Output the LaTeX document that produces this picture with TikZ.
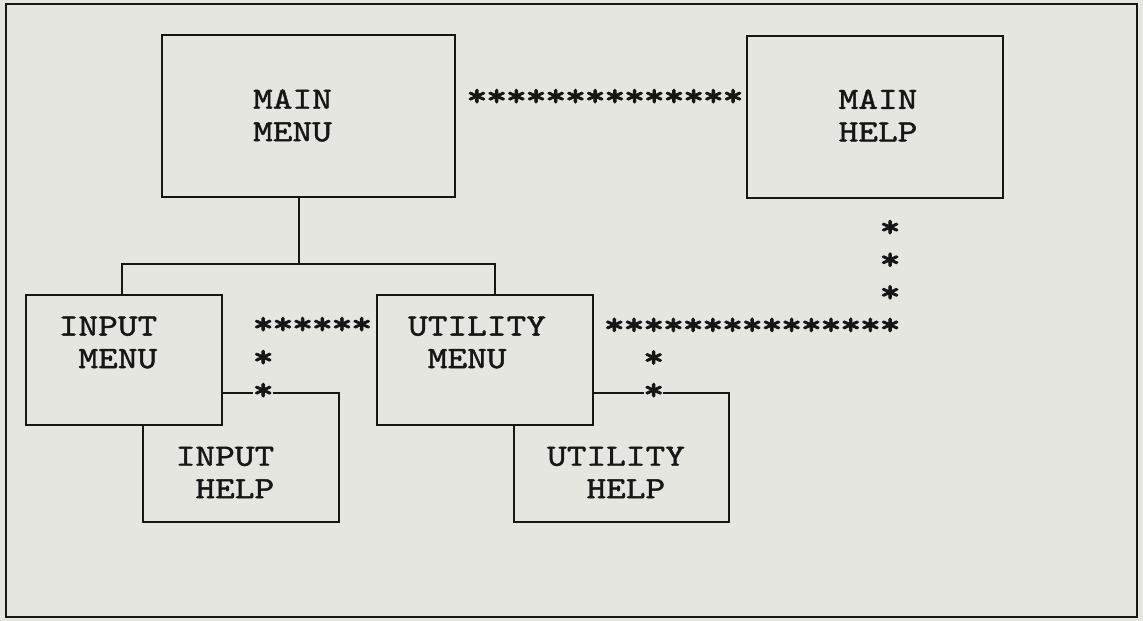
\documentclass[tikz,border=0pt]{standalone}
\usepackage{fontspec}
\newfontfamily\tw{lmmono10-regular.otf}[FakeBold=1.4, FakeStretch=1.21]
\newfontfamily\tws{lmmono10-regular.otf}[FakeBold=2.6, FakeStretch=1.25]
\definecolor{paper}{RGB}{230,230,224}
\definecolor{ink}{RGB}{22,22,22}
\newcommand\twfont{\tw\fontsize{31}{32.5}\selectfont}
\newcommand\st{\makebox[19.7pt]{\tws\fontsize{32}{32}\selectfont *}}
\newcommand\sk{\hspace*{19.7pt}}
\newcommand\starlines[2]{\vtop{\baselineskip=#1\lineskiplimit=-200pt\lineskip=0pt #2}}
\begin{document}
\begin{tikzpicture}[x=1pt,y=-1pt,
  box/.style={draw=ink, line width=2.2pt, fill=paper, rectangle, inner sep=0pt},
  back/.style={rectangle, inner sep=0pt},
  lbl/.style={font=\twfont, text=ink, align=left, inner sep=0pt},
  stars/.style={text=ink, inner sep=0pt},
  wire/.style={draw=ink, line width=2.2pt, line join=miter}]
\fill[paper] (0,0) rectangle (1143,621);
\useasboundingbox (0,0) rectangle (1143,621);
\draw[ink, line width=2.4pt] (6,4) rectangle (1137,617);
% help boxes (outlines drawn below, partly hidden behind the menus)
\node[back, minimum width=196pt, minimum height=129pt] (ih) at (241,457.5) {};
\node[back, minimum width=215pt, minimum height=129pt] (uh) at (621.5,457.5) {};
% menu boxes
\node[box, minimum width=293pt, minimum height=162pt] (mm) at (308.5,116) {};
\node[box, minimum width=256pt, minimum height=162pt] (mh) at (875,117) {};
\node[box, minimum width=196pt, minimum height=130pt] (im) at (124,360) {};
\node[box, minimum width=216pt, minimum height=130pt] (um) at (485,360) {};
% labels
\node[lbl] (mmt) at (292.5,115.5) {MAIN\\MENU};
\node[lbl] (mht) at (878,115.5) {MAIN\\HELP};
\node[lbl] (imt) at (108,342.5) {INPUT\\~MENU};
\node[lbl] (umt) at (477,342.5) {UTILITY\\~MENU};
\node[lbl] (iht) at (225,472.5) {INPUT\\~HELP};
\node[lbl] (uht) at (616,472.5) {UTILITY\\~~HELP};
% tree connector
\draw[wire] ([xshift=-9.5pt]mm.south) -- ++(0,66) coordinate (bus);
\draw[wire] ([xshift=-2pt]im.north) -- ([xshift=-2pt]im.north |- bus)
  -- ([xshift=10pt]um.north |- bus) -- ([xshift=10pt]um.north);
% star links
\node[stars, anchor=base] (sA) at (605,105.9) {\st\st\st\st\st\st\st\st\st\st\st\st\st\st};
\node[stars, anchor=base west] (sB) at (253.15,333.9)
  {\starlines{33pt}{\hbox{\st\st\st\st\st\st}\hbox{\st}\hbox{\st}}};
\node[stars, anchor=base west] (sC) at (604.25,236.9)
  {\starlines{32.6pt}{%
   \hbox{\sk\sk\sk\sk\sk\sk\sk\sk\sk\sk\sk\sk\sk\sk\st}%
   \hbox{\sk\sk\sk\sk\sk\sk\sk\sk\sk\sk\sk\sk\sk\sk\st}%
   \hbox{\sk\sk\sk\sk\sk\sk\sk\sk\sk\sk\sk\sk\sk\sk\st}%
   \hbox{\st\st\st\st\st\st\st\st\st\st\st\st\st\st\st}%
   \hbox{\sk\sk\st}%
   \hbox{\sk\sk\st}}};
% help box outlines, broken where a star sits on the top edge
\draw[wire] (im.east |- ih.north) -- (sB.west |- ih.north);
\draw[wire] ([xshift=19.7pt]sB.west |- ih.north) -- (ih.north east) -- (ih.south east)
  -- (ih.south west) -- (ih.north west |- im.south);
\draw[wire] (um.east |- uh.north) -- ([xshift=39.4pt]sC.west |- uh.north);
\draw[wire] ([xshift=59.1pt]sC.west |- uh.north) -- (uh.north east) -- (uh.south east)
  -- (uh.south west) -- (uh.north west |- um.south);
\end{tikzpicture}
\end{document}
